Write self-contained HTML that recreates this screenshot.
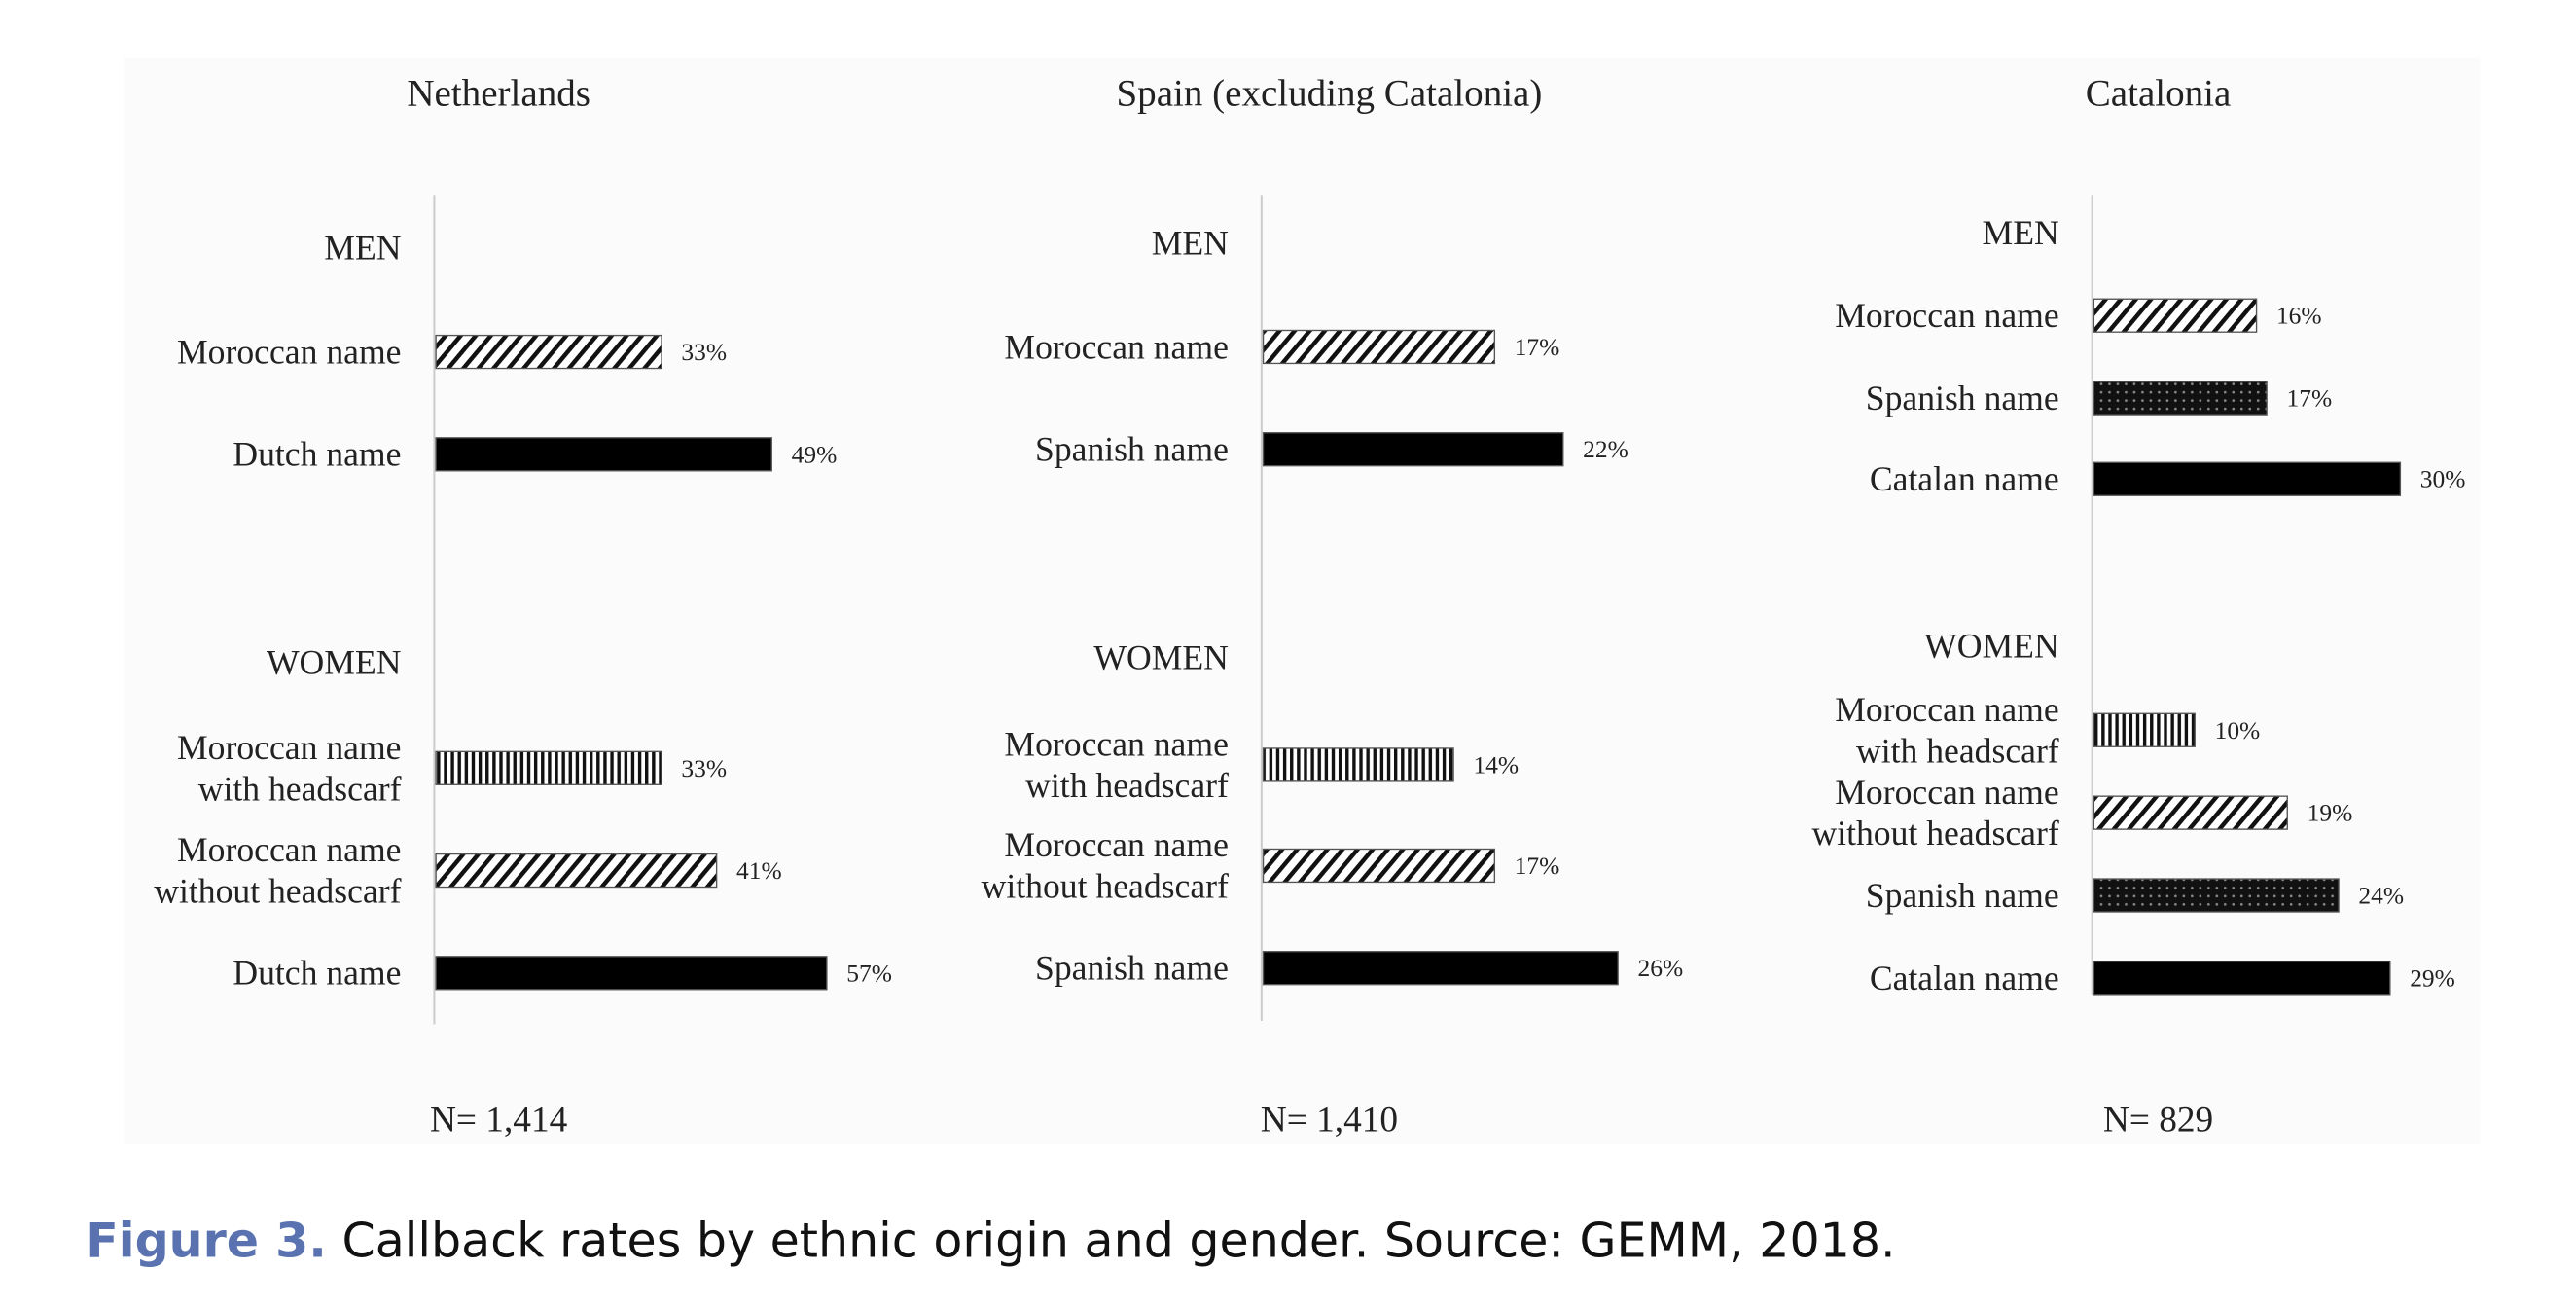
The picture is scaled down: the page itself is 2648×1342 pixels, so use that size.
<!DOCTYPE html>
<html><head><meta charset="utf-8"><style>
html,body{margin:0;padding:0;background:#fff;}
svg{display:block;}
</style></head><body>
<svg id="chart" width="2648" height="1342" viewBox="0 0 1560 790.6" xmlns="http://www.w3.org/2000/svg">
<defs>
<pattern id="diag" patternUnits="userSpaceOnUse" width="7" height="7" patternTransform="rotate(40)"><rect width="7" height="7" fill="#fff"/><rect width="2.6" height="7" fill="#111"/></pattern>
<pattern id="vert" patternUnits="userSpaceOnUse" width="4.2" height="4"><rect width="4.2" height="4" fill="#fff"/><rect width="2" height="4" fill="#111"/></pattern>
<pattern id="dots" patternUnits="userSpaceOnUse" width="5" height="5"><rect width="5" height="5" fill="#111"/><circle cx="2.5" cy="2.5" r="0.8" fill="#888"/></pattern>
</defs>
<rect x="75" y="35" width="1427" height="658" fill="#fbfbfb"/>
<g id="plots"></g>
<text x="52" y="761" font-family="'DejaVu Sans', sans-serif" font-size="29" textLength="1096" lengthAdjust="spacingAndGlyphs"><tspan fill="#5a73b0" font-weight="bold">Figure 3.</tspan><tspan fill="#111"> Callback rates by ethnic origin and gender. Source: GEMM, 2018.</tspan></text>
</svg>
<script>
const panelTitles = ["Netherlands", "Spain (excluding Catalonia)", "Catalonia"];
const panelN = ["N= 1,414", "N= 1,410", "N= 829"];
const nlLabels = [["Moroccan name"],["Dutch name"],["Moroccan name","with headscarf"],["Moroccan name","without headscarf"],["Dutch name"]];
const nlValues = [33, 49, 33, 41, 57];
const nlPatterns = ["diag","solid","vert","diag","solid"];
const esLabels = [["Moroccan name"],["Spanish name"],["Moroccan name","with headscarf"],["Moroccan name","without headscarf"],["Spanish name"]];
const esValues = [17, 22, 14, 17, 26];
const esPatterns = ["diag","solid","vert","diag","solid"];
const caLabels = [["Moroccan name"],["Spanish name"],["Catalan name"],["Moroccan name","with headscarf"],["Moroccan name","without headscarf"],["Spanish name"],["Catalan name"]];
const caValues = [16, 17, 30, 10, 19, 24, 29];
const caPatterns = ["diag","dots","solid","vert","diag","dots","solid"];

const NS = "http://www.w3.org/2000/svg";
const root = document.getElementById("plots");
const serif = "'Liberation Serif', serif";
function mk(tag, attrs, parent){const e=document.createElementNS(NS,tag);for(const k in attrs)e.setAttribute(k,attrs[k]);parent.appendChild(e);return e;}

const panels = [
 {axisX:263, center:302, pxPer:4.17, axisTop:118, axisBot:620, menY:150, womenY:401, rows:[213,275,465,527,589], labels:nlLabels, values:nlValues, pats:nlPatterns},
 {axisX:764, center:805, pxPer:8.3, axisTop:118, axisBot:618, menY:147, womenY:398, rows:[210,272,463,524,586], labels:esLabels, values:esValues, pats:esPatterns},
 {axisX:1267, center:1307, pxPer:6.22, axisTop:118, axisBot:602, menY:141, womenY:391, rows:[191,241,290,442,492,542,592], labels:caLabels, values:caValues, pats:caPatterns}
];

panels.forEach((p, pi) => {
  const g = mk("g", {}, root);
  
  
  const xs = v => p.axisX + v * p.pxPer;
  const t = mk("text", {x:p.center, y:64, "text-anchor":"middle", "font-family":serif, "font-size":23, fill:"#222"}, g);
  t.textContent = panelTitles[pi];
  
  
  const ax = mk("line", {x1:p.axisX, x2:p.axisX, y1:p.axisTop, y2:p.axisBot, stroke:"#ccc", "stroke-width":1.2}, g);
  
  
  [["MEN",p.menY],["WOMEN",p.womenY]].forEach(([s,y]) => {
    const h = mk("text", {x:p.axisX-20, y:y+7, "text-anchor":"end", "font-family":serif, "font-size":21, fill:"#222"}, g);
    h.textContent = s;
    
    
  });
  p.values.forEach((v, i) => {
    const y = p.rows[i];
    const lab = p.labels[i];
    lab.forEach((line, li) => {
      const ly = y + 7 + (li - (lab.length-1)/2) * 25;
      const tx = mk("text", {x:p.axisX-20, y:ly, "text-anchor":"end", "font-family":serif, "font-size":21, fill:"#222"}, g);
      tx.textContent = line;
      
      
    });
    const fill = p.pats[i] === "solid" ? "#000" : "url(#" + p.pats[i] + ")";
    const b = mk("rect", {x:p.axisX+1, y:y-10, width:xs(v)-p.axisX-1, height:20, fill:fill, stroke:"#555", "stroke-width":0.8}, g);
    
    
    const vt = mk("text", {x:xs(v)+12, y:y+5, "font-family":serif, "font-size":15, fill:"#222"}, g);
    vt.textContent = v + "%";
    
    
  });
  const n = mk("text", {x:p.center, y:685, "text-anchor":"middle", "font-family":serif, "font-size":22, fill:"#222"}, g);
  n.textContent = panelN[pi];
  
  
});
</script>
</body></html>
